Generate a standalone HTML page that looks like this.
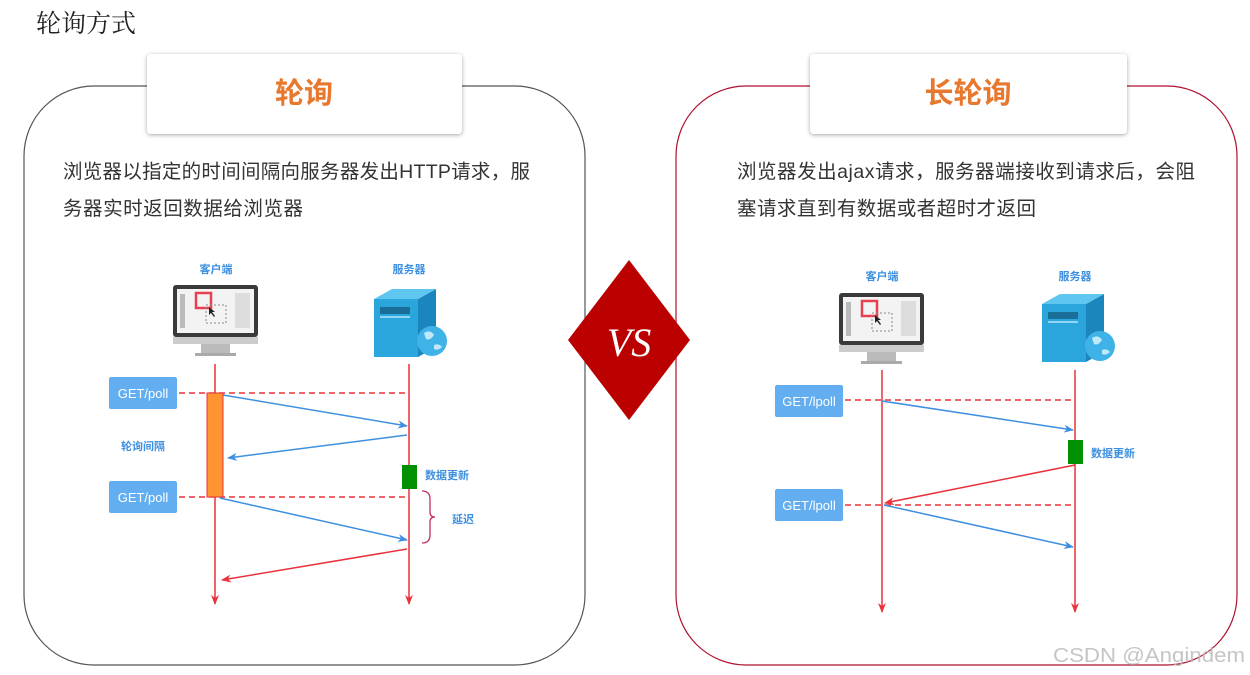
<!DOCTYPE html>
<html><head><meta charset="utf-8"><style>
html,body{margin:0;padding:0;background:#fff;width:1250px;height:675px;overflow:hidden}
svg{display:block}
text{font-family:"Liberation Sans","Noto Sans CJK SC",sans-serif}
</style></head><body>
<svg width="1250" height="675" viewBox="0 0 1250 675" xmlns="http://www.w3.org/2000/svg">
<defs>
<filter id="sh" x="-10%" y="-20%" width="120%" height="140%"><feDropShadow dx="0" dy="1" stdDeviation="2" flood-color="#000" flood-opacity="0.35"/></filter>
<marker id="ab" markerWidth="10" markerHeight="8" refX="9" refY="4" orient="auto" markerUnits="userSpaceOnUse"><path d="M0,0 L10,4 L0,8 L3,4z" fill="#3d8fe0"/></marker>
<marker id="ar" markerWidth="10" markerHeight="8" refX="9" refY="4" orient="auto" markerUnits="userSpaceOnUse"><path d="M0,0 L10,4 L0,8 L3,4z" fill="#e8323c"/></marker>
<g id="mon">
<rect x="0" y="0" width="85" height="52" rx="3" fill="#3a3a3a"/>
<rect x="4" y="4" width="77" height="44" fill="#f3f3f3"/>
<rect x="7" y="9" width="5" height="34" fill="#bbb"/>
<rect x="23" y="8" width="15" height="15" fill="none" stroke="#e84050" stroke-width="2.5"/>
<rect x="33" y="20" width="20" height="18" fill="none" stroke="#888" stroke-width="1" stroke-dasharray="2,2"/>
<path d="M36,22 l0,8 l2,-2 l3,4 l1,-1 l-3,-4 l3,0z" fill="#222"/>
<rect x="62" y="8" width="15" height="35" fill="#ddd"/>
<rect x="0" y="52" width="85" height="7" fill="#ccc"/>
<rect x="28" y="59" width="29" height="9" fill="#bbb"/>
<rect x="22" y="68" width="41" height="3" fill="#aaa"/>
</g>
<g id="srv">
<polygon points="0,14 44,14 44,72 0,72" fill="#2ba6dd"/>
<polygon points="44,14 62,4 62,62 44,72" fill="#1b86bd"/>
<polygon points="0,14 18,4 62,4 44,14" fill="#5ec6ef"/>
<rect x="6" y="22" width="30" height="7" fill="#1a6f99"/>
<rect x="6" y="31" width="30" height="2" fill="#8fd7f5"/>
<circle cx="58" cy="56" r="15" fill="#3fb2e8"/>
<path d="M50,48 q6,-4 10,2 q-4,6 -8,4z M60,60 q5,-2 8,2 q-4,4 -8,2z" fill="#bfe9fb"/>
</g>
</defs>

<text x="36" y="32" font-size="25" fill="#222" style="font-family:'Liberation Serif','Noto Serif CJK SC',serif">轮询方式</text>

<!-- Left panel -->
<rect x="24" y="86" width="561" height="579" rx="70" ry="70" fill="#fff" stroke="#555" stroke-width="1.2"/>
<rect x="147" y="54" width="315" height="80" rx="4" fill="#fff" filter="url(#sh)"/>
<text x="304" y="103" font-size="29" font-weight="bold" fill="#e8782e" text-anchor="middle">轮询</text>
<text x="63" y="178" font-size="19.5" fill="#333" textLength="467" lengthAdjust="spacing">浏览器以指定的时间间隔向服务器发出HTTP请求，服</text>
<text x="63" y="215" font-size="19.5" fill="#333" textLength="240" lengthAdjust="spacing">务器实时返回数据给浏览器</text>

<!-- Right panel -->
<rect x="676" y="86" width="561" height="579" rx="70" ry="70" fill="#fff" stroke="#b01030" stroke-width="1.2"/>
<rect x="810" y="54" width="317" height="80" rx="4" fill="#fff" filter="url(#sh)"/>
<text x="968" y="103" font-size="29" font-weight="bold" fill="#e8782e" text-anchor="middle">长轮询</text>
<text x="737" y="178" font-size="19.5" fill="#333" textLength="458" lengthAdjust="spacing">浏览器发出ajax请求，服务器端接收到请求后，会阻</text>
<text x="737" y="215" font-size="19.5" fill="#333" textLength="299" lengthAdjust="spacing">塞请求直到有数据或者超时才返回</text>

<!-- VS diamond -->
<polygon points="629,260 690,340 629,420 568,340" fill="#bb0000"/>
<text x="629" y="356" font-size="40" font-style="italic" fill="#fff" text-anchor="middle" style="font-family:'Liberation Serif',serif">VS</text>

<!-- Left diagram -->
<text x="216" y="273" font-size="11" font-weight="bold" fill="#3d8fe0" text-anchor="middle">客户端</text>
<text x="409" y="273" font-size="11" font-weight="bold" fill="#3d8fe0" text-anchor="middle">服务器</text>
<use href="#mon" x="173" y="285"/>
<use href="#srv" x="374" y="285"/>
<line x1="215" y1="364" x2="215" y2="604" stroke="#e8323c" stroke-width="1.5" marker-end="url(#ar)"/>
<line x1="409" y1="364" x2="409" y2="604" stroke="#e8323c" stroke-width="1.5" marker-end="url(#ar)"/>
<rect x="109" y="377" width="68" height="32" rx="2" fill="#63aef0"/>
<text x="143" y="398" font-size="13" fill="#fff" text-anchor="middle">GET/poll</text>
<rect x="109" y="481" width="68" height="32" rx="2" fill="#63aef0"/>
<text x="143" y="502" font-size="13" fill="#fff" text-anchor="middle">GET/poll</text>
<line x1="179" y1="393" x2="409" y2="393" stroke="#e8323c" stroke-width="1.5" stroke-dasharray="6,4"/>
<line x1="179" y1="497" x2="409" y2="497" stroke="#e8323c" stroke-width="1.5" stroke-dasharray="6,4"/>
<rect x="207" y="393" width="16" height="104" fill="#ff9433" stroke="#e8323c" stroke-width="1"/>
<line x1="223" y1="395" x2="407" y2="426" stroke="#3d8fe0" stroke-width="1.5" marker-end="url(#ab)"/>
<line x1="407" y1="435" x2="228" y2="458" stroke="#3d8fe0" stroke-width="1.5" marker-end="url(#ab)"/>
<text x="143" y="450" font-size="11" font-weight="bold" fill="#3d8fe0" text-anchor="middle">轮询间隔</text>
<rect x="402" y="465" width="15" height="24" fill="#009000"/>
<text x="425" y="479" font-size="11" font-weight="bold" fill="#3d8fe0">数据更新</text>
<path d="M422,491 q8,0 8,8 v13 q0,5 5,5 q-5,0 -5,5 v13 q0,8 -8,8" fill="none" stroke="#c03060" stroke-width="1.3"/>
<text x="452" y="523" font-size="11" font-weight="bold" fill="#3d8fe0">延迟</text>
<line x1="220" y1="498" x2="407" y2="540" stroke="#3d8fe0" stroke-width="1.5" marker-end="url(#ab)"/>
<line x1="407" y1="549" x2="222" y2="580" stroke="#e8323c" stroke-width="1.5" marker-end="url(#ar)"/>

<!-- Right diagram -->
<text x="882" y="280" font-size="11" font-weight="bold" fill="#3d8fe0" text-anchor="middle">客户端</text>
<text x="1075" y="280" font-size="11" font-weight="bold" fill="#3d8fe0" text-anchor="middle">服务器</text>
<use href="#mon" x="839" y="293"/>
<use href="#srv" x="1042" y="290"/>
<line x1="882" y1="370" x2="882" y2="612" stroke="#e8323c" stroke-width="1.5" marker-end="url(#ar)"/>
<line x1="1075" y1="370" x2="1075" y2="612" stroke="#e8323c" stroke-width="1.5" marker-end="url(#ar)"/>
<rect x="775" y="385" width="68" height="32" rx="2" fill="#63aef0"/>
<text x="809" y="406" font-size="13" fill="#fff" text-anchor="middle">GET/lpoll</text>
<rect x="775" y="489" width="68" height="32" rx="2" fill="#63aef0"/>
<text x="809" y="510" font-size="13" fill="#fff" text-anchor="middle">GET/lpoll</text>
<line x1="845" y1="400" x2="1075" y2="400" stroke="#e8323c" stroke-width="1.5" stroke-dasharray="6,4"/>
<line x1="845" y1="505" x2="1075" y2="505" stroke="#e8323c" stroke-width="1.5" stroke-dasharray="6,4"/>
<line x1="882" y1="401" x2="1073" y2="430" stroke="#3d8fe0" stroke-width="1.5" marker-end="url(#ab)"/>
<rect x="1068" y="440" width="15" height="24" fill="#009000"/>
<text x="1091" y="457" font-size="11" font-weight="bold" fill="#3d8fe0">数据更新</text>
<line x1="1075" y1="465" x2="885" y2="503" stroke="#e8323c" stroke-width="1.5" marker-end="url(#ar)"/>
<line x1="884" y1="505" x2="1073" y2="547" stroke="#3d8fe0" stroke-width="1.5" marker-end="url(#ab)"/>

<text x="1053" y="662" font-size="20" fill="#bbb" fill-opacity="0.85" textLength="192" lengthAdjust="spacingAndGlyphs">CSDN @Angindem</text>
</svg>
</body></html>
